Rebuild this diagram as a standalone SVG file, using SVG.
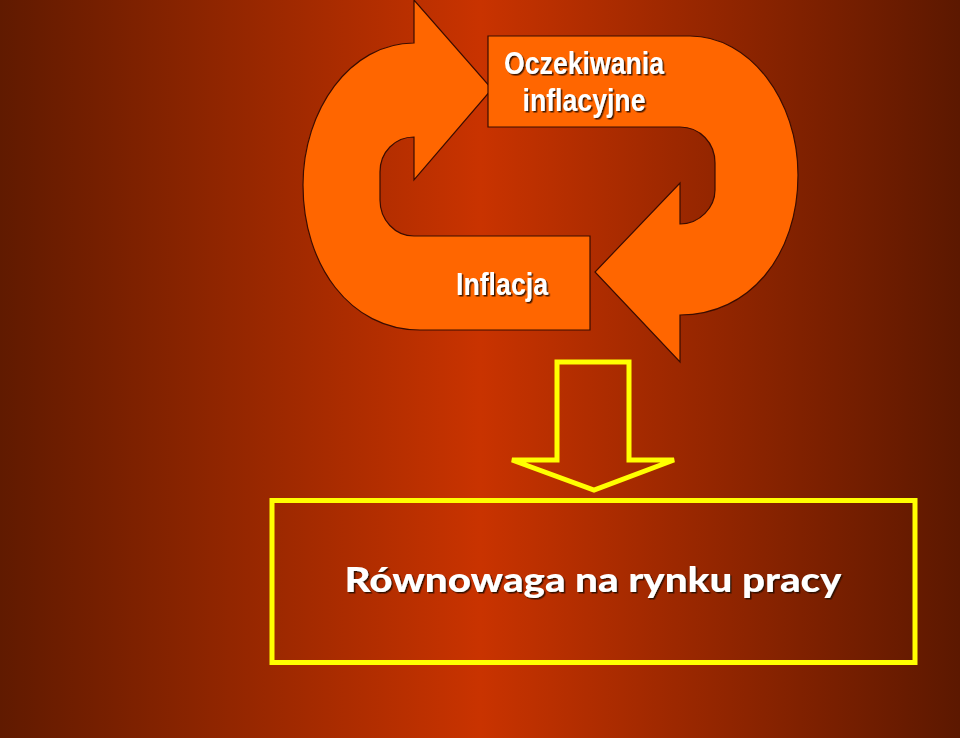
<svg xmlns="http://www.w3.org/2000/svg" width="960" height="738" viewBox="0 0 960 738">
<defs>
<linearGradient id="bg" x1="0" y1="0" x2="960" y2="0" gradientUnits="userSpaceOnUse">
<stop offset="0" stop-color="#601a00"/>
<stop offset="0.5" stop-color="#c93300"/>
<stop offset="1" stop-color="#5c1800"/>
</linearGradient>
<filter id="sh" x="-10%" y="-20%" width="130%" height="150%">
<feDropShadow dx="1.5" dy="1.5" stdDeviation="0.6" flood-color="#2a0800" flood-opacity="0.9"/>
</filter>
<style>
.arrow{fill:#ff6600;stroke:#3a0c00;stroke-width:1.2}
.lbl{font-family:"Liberation Sans",Arial,sans-serif;font-weight:bold;font-size:30.5px;fill:#ffffff;text-anchor:middle}
.ybox{fill:none;stroke:#ffff00;stroke-width:5}
.big{font-family:Lato,"Open Sans","Liberation Sans",sans-serif;font-weight:900;font-size:34px;fill:#ffffff;text-anchor:middle}
</style>
</defs>
<rect x="0" y="0" width="960" height="738" fill="url(#bg)"/>
<g id="inflacja">
<path class="arrow" d="M590,236 L590,330 L420,330 C350,330 303,265 303,185 C303,110 350,43 414,43 L414,0 L492,89 L414,180 L414,137 C395,137 380,152 380,172 L380,200 C380,220 395,236 414,236 Z"/>
<text class="lbl" x="502" y="295" textLength="92" lengthAdjust="spacingAndGlyphs" filter="url(#sh)">Inflacja</text>
</g>
<g id="oczekiwania">
<path class="arrow" d="M488,36 L690,36 C750,36 798,100 798,175 C798,255 750,315 680,315 L680,362 L595,272 L680,183 L680,224 C700,224 715,207 715,190 L715,163 C715,143 700,127 680,127 L488,127 Z"/>
<text class="lbl" x="584" y="73.5" textLength="160" lengthAdjust="spacingAndGlyphs" filter="url(#sh)">Oczekiwania</text>
<text class="lbl" x="584" y="111" textLength="123" lengthAdjust="spacingAndGlyphs" filter="url(#sh)">inflacyjne</text>
</g>
<g id="connectors">
<path class="ybox" d="M557,362 L629,362 L629,460 L674,460 L594,490 L512,460 L557,460 Z" stroke-linejoin="miter"/>
</g>
<g id="rownowaga">
<rect class="ybox" x="272" y="500.5" width="643" height="162"/>
<text class="big" x="593" y="592" textLength="497" lengthAdjust="spacingAndGlyphs" filter="url(#sh)">Równowaga na rynku pracy</text>
</g>
</svg>
